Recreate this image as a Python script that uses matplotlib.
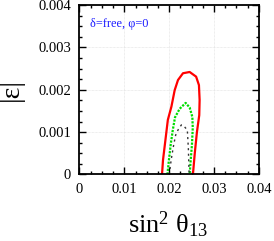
import matplotlib
matplotlib.use("Agg")
import matplotlib.pyplot as plt
from matplotlib.ticker import MultipleLocator

# contour points: (sin^2 theta13, |epsilon|)
red_x = [0.01840, 0.01862, 0.01920, 0.01970, 0.02049, 0.02122, 0.02196, 0.02307,
         0.02456, 0.02600, 0.02663, 0.02678, 0.02670, 0.02618, 0.02570, 0.02529]
red_y = [0.0, 0.00034, 0.00085, 0.00129, 0.00160, 0.00199, 0.00223, 0.00239,
         0.00242, 0.00231, 0.00211, 0.00176, 0.00140, 0.00100, 0.00050, 0.0]

green_x = [0.01960, 0.01995, 0.02033, 0.02080, 0.02130, 0.02233, 0.02367,
           0.02456, 0.02516, 0.02525, 0.02507, 0.02480, 0.02456]
green_y = [0.0, 0.00035, 0.00070, 0.00105, 0.00135, 0.00155, 0.00169,
           0.00158, 0.00136, 0.00110, 0.00070, 0.00035, 0.0]

black_x = [0.02000, 0.02049, 0.02100, 0.02144, 0.02196, 0.02271, 0.02330,
           0.02404, 0.02427, 0.02440, 0.02445]
black_y = [0.0, 0.00038, 0.00070, 0.00093, 0.00105, 0.00117, 0.00114,
           0.00105, 0.00062, 0.00015, 0.0]

x_ticks = [0, 0.01, 0.02, 0.03, 0.04]
x_labels = ["0", "0.01", "0.02", "0.03", "0.04"]
y_ticks = [0, 0.001, 0.002, 0.003, 0.004]
y_labels = ["0", "0.001", "0.002", "0.003", "0.004"]

plt.rcParams['font.family'] = ['Liberation Serif', 'DejaVu Serif']
plt.rcParams['mathtext.fontset'] = 'custom'
plt.rcParams['mathtext.rm'] = 'Liberation Serif'
plt.rcParams['mathtext.it'] = 'Liberation Serif:italic'

fig = plt.figure(figsize=(2.74, 2.41), dpi=100)
ax = fig.add_axes([0.290, 0.276, 0.655, 0.703])

ax.plot(red_x, red_y, color='#ff0000', lw=1.6)
ax.plot(green_x, green_y, color='#00dd00', lw=1.6, linestyle=(0, (1, 0.6)))
ax.plot(black_x, black_y, color='#333333', lw=1.0, linestyle=(0, (1.5, 2.5)))

ax.set_xlim(0, 0.04)
ax.set_ylim(0, 0.004)
ax.set_xticks(x_ticks, labels=x_labels)
ax.set_yticks(y_ticks, labels=y_labels)
ax.xaxis.set_minor_locator(MultipleLocator(0.0025))
ax.yaxis.set_minor_locator(MultipleLocator(0.00025))
ax.tick_params(which='both', direction='in', top=True, right=True, width=1.0, color='black')
ax.tick_params(which='major', length=5, labelsize=10.5, pad=6)
ax.tick_params(which='minor', length=2.5)
for s in ax.spines.values():
    s.set_linewidth(1.3)
ax.grid(True, which='major', color='#dddddd', lw=0.5, linestyle=(0, (1, 1)))

fig.text(0.613, 0.030, r"sin$^2$ θ$_{13}$", fontsize=19, ha='center', va='baseline')
fig.text(0.042, 0.627, "|ε|", fontsize=20, rotation=90, ha='center', va='center')

ax.text(0.0024, 0.00355, "δ=free, φ=0", color='#1a1aff', fontsize=8.8, ha='left', va='center')

fig.savefig("out.png", dpi=100)
